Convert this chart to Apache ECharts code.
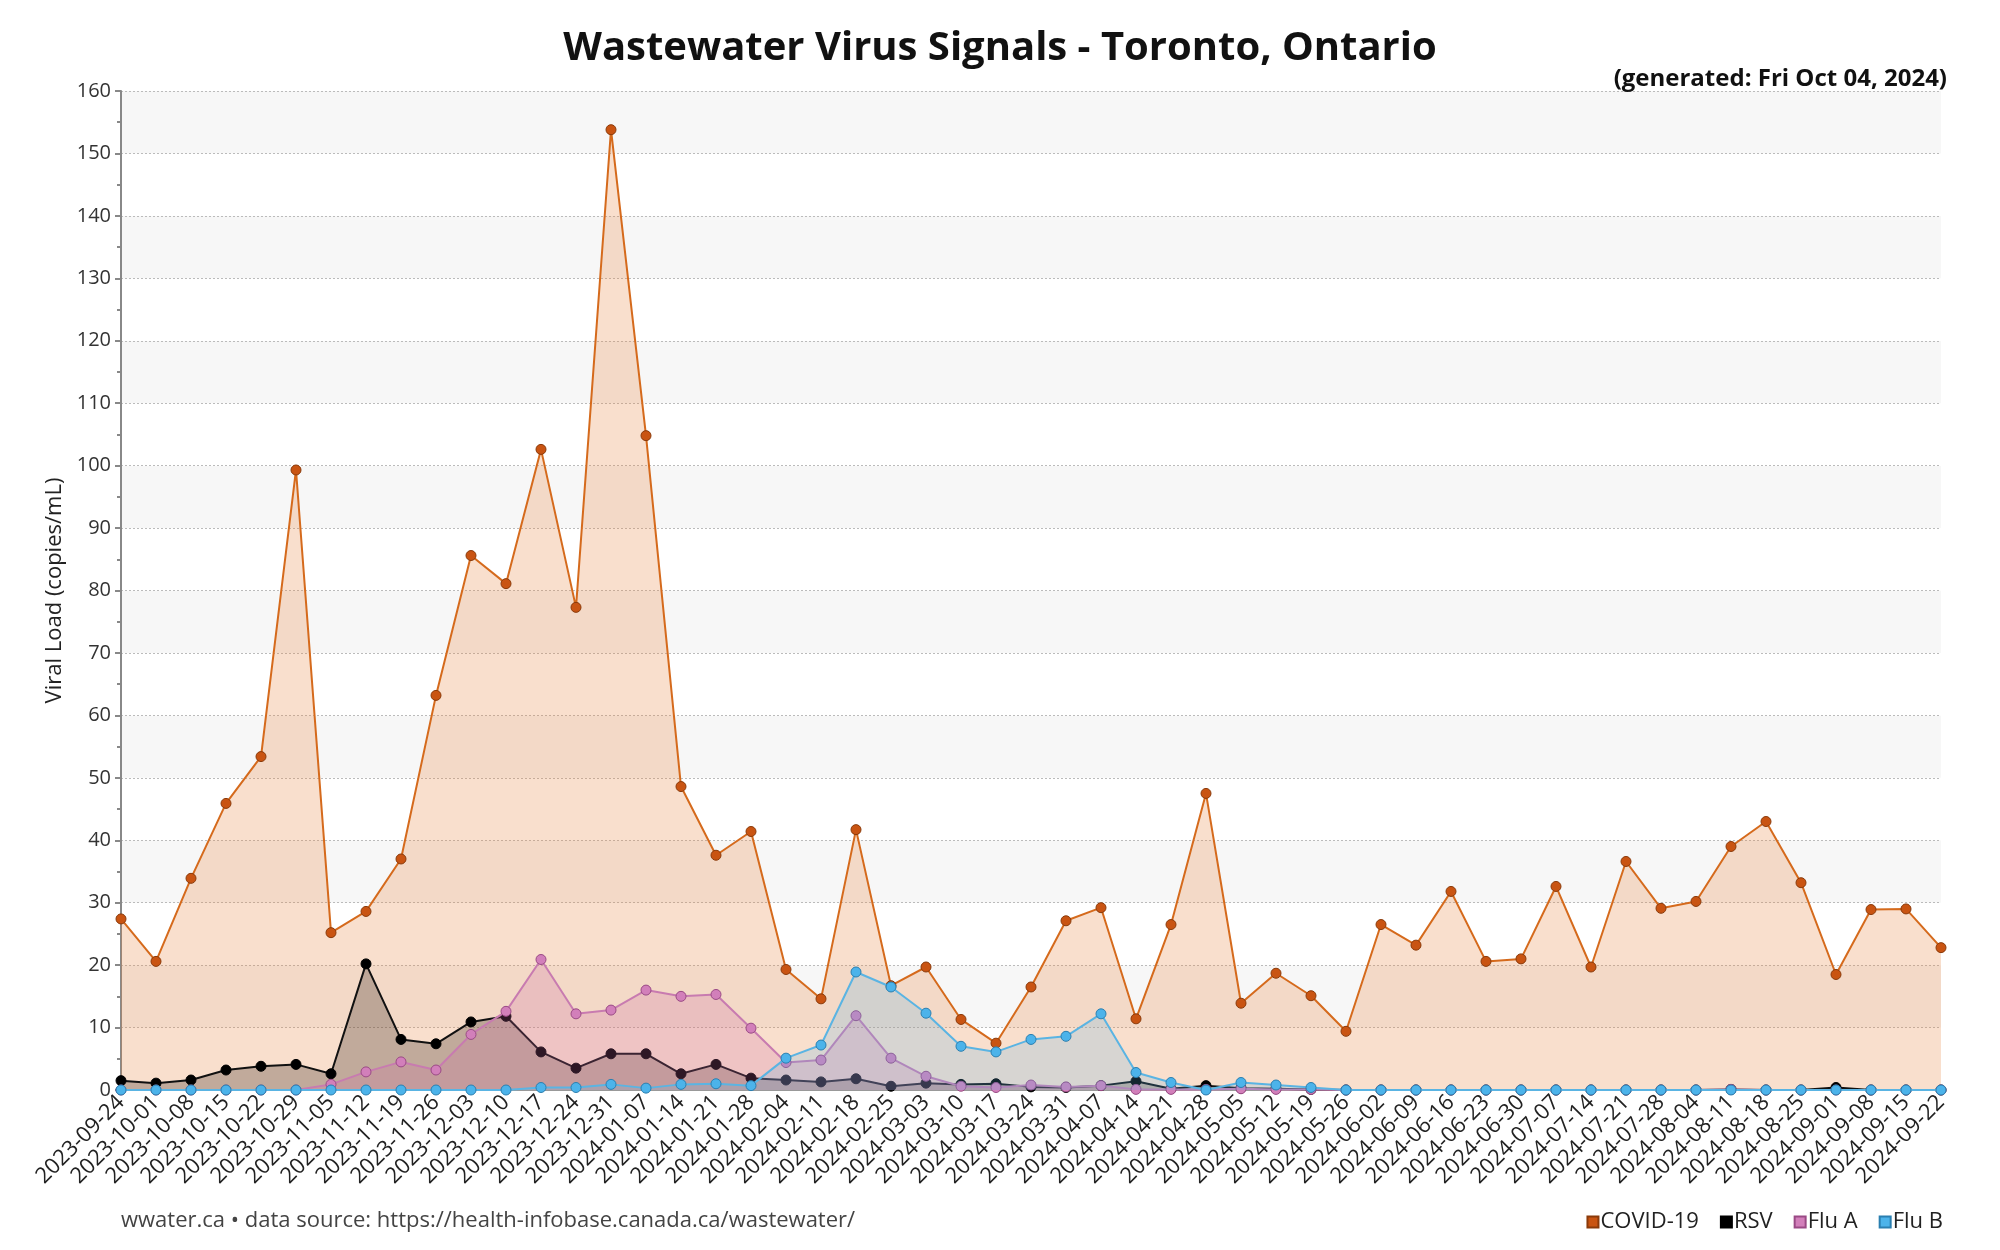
<!DOCTYPE html>
<html>
<head>
<meta charset="utf-8">
<script src="https://cdn.jsdelivr.net/npm/echarts@6/dist/echarts.min.js"></script>
<style>
html,body{margin:0;padding:0;background:#fff;}
#chart{width:2000px;height:1250px;}
</style>
</head>
<body>
<div id="chart"></div>
<script>
const categories = ["2023-09-24","2023-10-01","2023-10-08","2023-10-15","2023-10-22","2023-10-29","2023-11-05","2023-11-12","2023-11-19","2023-11-26","2023-12-03","2023-12-10","2023-12-17","2023-12-24","2023-12-31","2024-01-07","2024-01-14","2024-01-21","2024-01-28","2024-02-04","2024-02-11","2024-02-18","2024-02-25","2024-03-03","2024-03-10","2024-03-17","2024-03-24","2024-03-31","2024-04-07","2024-04-14","2024-04-21","2024-04-28","2024-05-05","2024-05-12","2024-05-19","2024-05-26","2024-06-02","2024-06-09","2024-06-16","2024-06-23","2024-06-30","2024-07-07","2024-07-14","2024-07-21","2024-07-28","2024-08-04","2024-08-11","2024-08-18","2024-08-25","2024-09-01","2024-09-08","2024-09-15","2024-09-22"];
const covid = [27.4,20.6,33.9,45.9,53.4,99.3,25.2,28.6,37.0,63.2,85.6,81.1,102.6,77.3,153.8,104.8,48.6,37.6,41.4,19.3,14.6,41.7,16.7,19.7,11.3,7.5,16.5,27.1,29.2,11.4,26.5,47.5,13.9,18.7,15.1,9.4,26.5,23.2,31.8,20.6,21.0,32.6,19.7,36.6,29.1,30.2,39.0,43.0,33.2,18.5,28.9,29.0,22.8];
const rsv = [1.5,1.1,1.6,3.2,3.8,4.1,2.6,20.2,8.1,7.4,10.9,11.8,6.1,3.5,5.8,5.8,2.6,4.1,1.9,1.6,1.3,1.8,0.6,1.1,0.9,1.0,0.5,0.4,0.7,1.4,0.2,0.7,0.3,0.2,0.1,0,0,0,0,0,0,0,0,0,0,0,0.1,0,0,0.4,0,0,0];
const fluA = [0,0,0,0,0,0,0.9,2.9,4.5,3.2,8.9,12.6,20.9,12.2,12.8,16.0,15.0,15.3,9.9,4.4,4.8,11.9,5.1,2.2,0.6,0.4,0.8,0.5,0.7,0.1,0.1,0.1,0.2,0.1,0.1,0,0,0,0,0,0,0,0,0,0,0,0.1,0,0,0,0,0,0];
const fluB = [0,0,0,0,0,0,0,0,0,0,0,0,0.4,0.4,0.9,0.3,0.9,1.0,0.7,5.1,7.2,18.9,16.5,12.3,7.0,6.1,8.1,8.6,12.2,2.8,1.2,0,1.2,0.8,0.4,0,0,0,0,0,0,0,0,0,0,0,0,0,0,0,0,0,0];
const yTicks = {min:0, max:160, interval:10};

const FONT = "'Open Sans', 'DejaVu Sans', sans-serif";
function mkSeries(name, data, line, fill, border, area, z){
  return {
    name, type:'line', data, z,
    symbol:'circle', symbolSize:10, showSymbol:true,
    lineStyle:{color:line, width:2},
    itemStyle:{color:fill, borderColor:border, borderWidth:1},
    areaStyle:{color:area, origin:'start'},
    emphasis:{disabled:true}
  };
}
const chart = echarts.init(document.getElementById('chart'), null, {renderer:'canvas'});
chart.setOption({
  animation:false,
  backgroundColor:'#ffffff',
  textStyle:{fontFamily:FONT},
  title:[
    {text:'Wastewater Virus Signals - Toronto, Ontario', left:'center', top:24,
     textStyle:{fontFamily:FONT, fontWeight:'bold', fontSize:40, color:'#111'}},
    {text:'(generated: Fri Oct 04, 2024)', right:48, top:62,
     textStyle:{fontFamily:FONT, fontWeight:'bold', fontSize:24, color:'#111'}},
    {text:'wwater.ca \u2022 data source: https://health-infobase.canada.ca/wastewater/', left:116, top:1205,
     textStyle:{fontFamily:FONT, fontWeight:'normal', fontSize:22, color:'#444'}}
  ],
  legend:{
    right:52, top:1206, icon:'rect', itemWidth:11, itemHeight:11, itemGap:21,
    textStyle:{fontFamily:FONT, fontSize:22, color:'#222', padding:[0,0,0,-3]},
    data:['COVID-19','RSV','Flu A','Flu B']
  },
  grid:{left:121, right:59, top:91, bottom:160, containLabel:false},
  xAxis:{
    type:'category', data:categories, boundaryGap:false,
    axisLine:{show:true, lineStyle:{color:'#999'}},
    axisTick:{show:false},
    axisLabel:{rotate:45, fontFamily:FONT, fontSize:22, color:'#222', margin:9, interval:0},
    splitLine:{show:false}
  },
  yAxis:{
    type:'value', min:yTicks.min, max:yTicks.max, interval:yTicks.interval,
    name:'Viral Load (copies/mL)', nameLocation:'middle', nameGap:44, nameRotate:90,
    nameTextStyle:{fontFamily:FONT, fontSize:22, color:'#222'},
    axisLine:{show:true, lineStyle:{color:'#888', width:2}},
    axisTick:{show:true, inside:false, length:6, lineStyle:{color:'#888', width:2}},
    minorTick:{show:true, splitNumber:2, length:4, lineStyle:{color:'#888', width:2}},
    axisLabel:{fontFamily:FONT, fontSize:20, color:'#333', margin:10},
    splitLine:{show:true, lineStyle:{color:'#bbb', type:[2,2], width:1}},
    splitArea:{show:true, areaStyle:{color:['#ffffff','#f7f7f7']}}
  },
  series:[
    mkSeries('COVID-19', covid, '#d56a1c', '#c95412', '#8a3a0a', 'rgba(232,128,55,0.36)', 2),
    mkSeries('RSV', rsv, '#111111', '#000000', '#000000', 'rgba(40,25,20,0.38)', 3),
    mkSeries('Flu A', fluA, '#c87bb0', '#d27fba', '#9a4a85', 'rgba(205,105,165,0.32)', 4),
    mkSeries('Flu B', fluB, '#5ab4e3', '#4cb3ea', '#2a7fb0', 'rgba(90,180,230,0.30)', 5)
  ]
});
</script>
</body>
</html>
